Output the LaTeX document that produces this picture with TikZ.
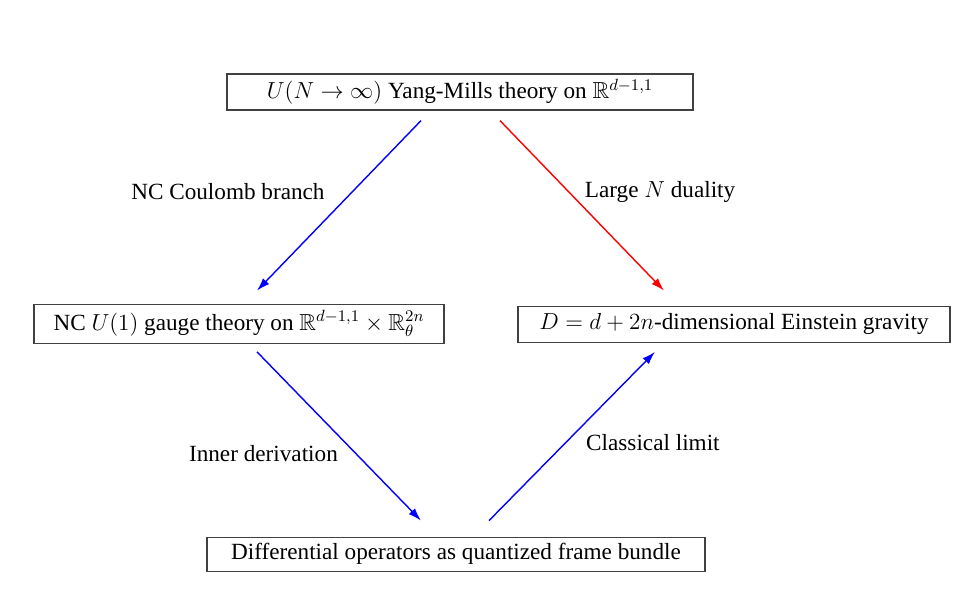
\RequirePackage{fix-cm}
\documentclass[tikz,border=0pt]{standalone}
\usepackage{amsmath}
\usepackage{amssymb}
\usepackage{fontspec}
\setmainfont{LiberationSerif}[Extension=.ttf, UprightFont=*-Regular, BoldFont=*-Bold, ItalicFont=*-Italic, BoldItalicFont=*-BoldItalic]
\usepackage{xcolor}
\usetikzlibrary{arrows.meta,positioning,calc}

\begin{document}
\begin{tikzpicture}[
    node distance=3.9cm,
    box/.style={rectangle, draw=black!75, line width=0.7pt, inner sep=2pt, align=center, font=\fontsize{13.2}{15}\selectfont},
    lbl/.style={font=\fontsize{13.2}{15}\selectfont},
    arrow/.style={-{Latex[length=2.6mm,width=1.7mm]}, line width=0.8pt}
]
\useasboundingbox (-9.2,-9.94) rectangle (10.02,1.84);
\node[box, minimum width=9.32cm, minimum height=0.72cm] (ym) at (0,0) {$U(N\to\infty)$ Yang-Mills theory on $\mathbb{R}^{d-1,1}$};
\node[box, minimum width=8.2cm, minimum height=0.78cm, below=3.86cm of ym, xshift=-4.42cm] (nc) {NC $U(1)$ gauge theory on $\mathbb{R}^{d-1,1}\times\mathbb{R}^{2n}_\theta$};
\node[box, minimum width=8.64cm, minimum height=0.72cm, below=3.9cm of ym, xshift=5.48cm] (grav) {$D=d+2n$-dimensional Einstein gravity};
\node[box, minimum width=9.96cm, minimum height=0.68cm, below=8.52cm of ym, xshift=-0.08cm] (diff) {Differential operators as quantized frame bundle};
\draw[arrow, blue] ($(ym.south)+(-0.78,-0.2)$) -- node[lbl, pos=0.42, left=0.42cm, text=black] {NC Coulomb branch} ($(nc.north)+(0.36,0.26)$);
\draw[arrow, red] ($(ym.south)+(0.8,-0.2)$) -- node[lbl, pos=0.42, right=0.19cm, text=black] {Large $N$ duality} ($(grav.north)+(-1.4,0.3)$);
\draw[arrow, blue] ($(nc.south)+(0.36,-0.16)$) -- node[lbl, pos=0.6, left=0.22cm, text=black] {Inner derivation} ($(diff.north)+(-0.7,0.32)$);
\draw[arrow, blue] ($(diff.north)+(0.66,0.32)$) -- node[lbl, pos=0.465, right=0.27cm, text=black] {Classical limit} ($(grav.south)+(-1.58,-0.18)$);
\end{tikzpicture}
\end{document}
